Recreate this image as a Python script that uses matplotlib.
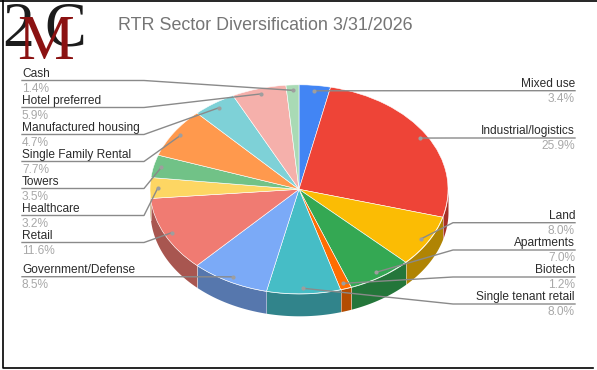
import numpy as np
import matplotlib
matplotlib.use("Agg")
import matplotlib.pyplot as plt
from matplotlib.colors import to_rgb

W, H = 597, 370

labels = ["Mixed use", "Industrial/logistics", "Land", "Apartments", "Biotech",
          "Single tenant retail", "Government/Defense", "Retail", "Healthcare",
          "Towers", "Single Family Rental", "Manufactured housing",
          "Hotel preferred", "Cash"]
values = [3.4, 25.9, 8.0, 7.0, 1.2, 8.0, 8.5, 11.6, 3.2, 3.5, 7.7, 4.7, 5.9, 1.4]
colors = ["#4285F4", "#EE4437", "#FBBC04", "#34A853", "#FF6D01", "#46BDC6", "#7BAAF7",
          "#F07B72", "#FDD663", "#71C287", "#FF994D", "#7ED1D7", "#F5B0AB", "#A9DAB5"]

# y of each leader line in pixels, same order as labels
line_y = [90.7, 138, 222.7, 250, 277, 304, 276.7, 242.5, 215.5, 188.5, 161.5, 134.5, 107.5, 80.5]

cx, cy, rx, ry, depth = 299, 189.3, 149, 104.5, 22

plt.rcParams['font.family'] = ['Liberation Sans', 'DejaVu Sans']
fig = plt.figure(figsize=(W / 100, H / 100), dpi=100)
ax = fig.add_axes([0, 0, 1, 1])


def px(x, y):
    return (x - cx) / rx, (cy - y) / ry


# pie unit circle gets squashed into the tilted ellipse by the limits
edges = 90 - np.cumsum([0] + values) * 3.6
mids = (edges[:-1] + edges[1:]) / 2

# side wall, only the front half shows
d = depth / ry
for i, col in enumerate(colors):
    a0, a1 = max(edges[i + 1], -180), min(edges[i], 0)
    if a0 >= a1:
        continue
    t = np.radians(np.linspace(a1, a0, 60))
    dark = tuple(c * 0.7 for c in to_rgb(col))
    ax.fill_between(np.cos(t), np.sin(t) - d, np.sin(t), color=dark, lw=0, zorder=1)
    if a1 < 0:
        s = np.radians(a1)
        ax.plot([np.cos(s)] * 2, [np.sin(s) - d, np.sin(s)], color="#ffffff", alpha=0.45, lw=0.7, zorder=1.5)

ax.pie(values, colors=colors, startangle=90, counterclock=False, radius=1, center=(0, 0),
       wedgeprops={"edgecolor": "#ffffff", "linewidth": 0.4, "zorder": 2})
ax.set_aspect("auto")
ax.set_xlim(px(0, 0)[0], px(W, 0)[0])
ax.set_ylim(px(0, H)[1], px(0, 0)[1])

# leaders and labels
for i, name in enumerate(labels):
    th = np.radians(mids[i])
    dot = (0.948 * np.cos(th), 0.948 * np.sin(th))
    left = mids[i] < -90
    end, knee = (22, 144) if left else (575, 453)
    xs = [px(end, 0)[0], px(knee, 0)[0], dot[0]]
    yy = px(0, line_y[i])[1]
    ax.plot(xs, [yy, yy, dot[1]], color="#8a8a8a", lw=1.0, zorder=4, solid_joinstyle="round")
    ax.plot(*dot, "o", color="#9e9e9e", ms=3, mew=0, zorder=5)
    ha = "left" if left else "right"
    ax.text(px(end, 0)[0], yy + 0.6 / ry, name, ha=ha, va="bottom", fontsize=8.6, color="#2b2b2b", zorder=6)
    ax.text(px(end, 0)[0], yy - 2.2 / ry, f"{values[i]:.1f}%", ha=ha, va="top", fontsize=8.6, color="#a8a8a8", zorder=6)

ax.text(*px(118, 25.5), "RTR Sector Diversification 3/31/2026", ha="left", va="center",
        fontsize=12.9, color="#757575")

# logo
ax.text(*px(18.5, 45.5), "2", ha="center", va="baseline", family="Liberation Serif", fontsize=46,
        color="#1c1c1c", zorder=7)
ax.text(*px(65, 45), "C", ha="center", va="baseline", family="Liberation Serif", fontsize=45,
        color="#1c1c1c", zorder=7)
ax.text(*px(45.5, 59), "M", ha="center", va="baseline", family="Liberation Serif", fontsize=46,
        color="#8B1212", zorder=8)

# picture frame
ax.plot(*zip(px(2.5, 0.7), px(2.5, 368), px(593, 368)), color="#000000", lw=1.2, zorder=9)
ax.plot(*zip(px(0, 0.7), px(597, 0.7)), color="#000000", lw=1.2, zorder=9)

ax.axis("off")
fig.savefig("out.png", dpi=100)
